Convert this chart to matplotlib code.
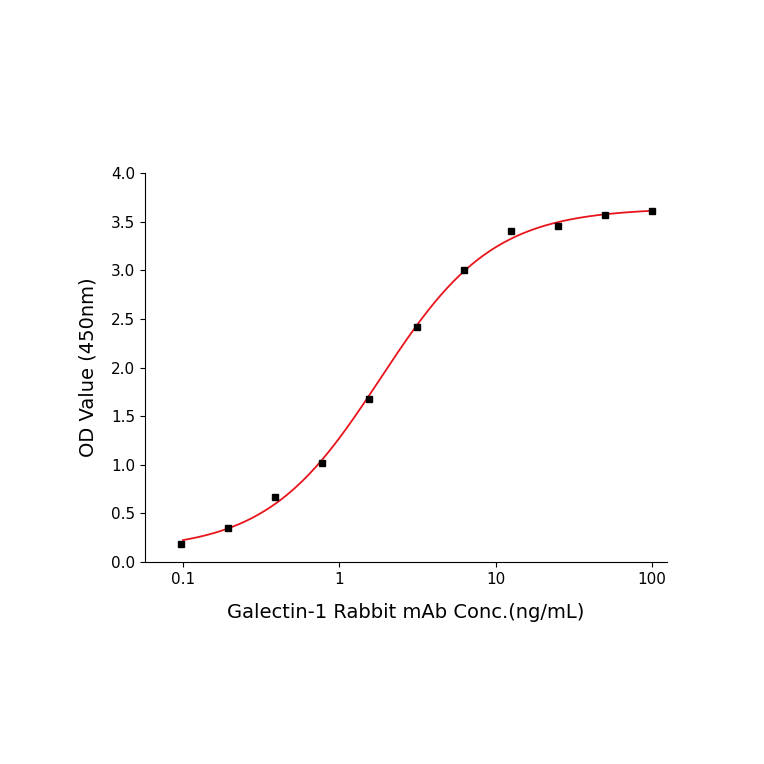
import numpy as np
import matplotlib
matplotlib.use("Agg")
import matplotlib.pyplot as plt
from matplotlib.ticker import NullLocator

conc = [0.0977, 0.195, 0.39, 0.78, 1.56, 3.125, 6.25, 12.5, 25, 50, 100]
od = [0.19, 0.35, 0.67, 1.02, 1.68, 2.42, 3.00, 3.40, 3.46, 3.57, 3.61]

# 4PL fit by simple grid search least squares on the data
x = np.array(conc); y = np.array(od)
best = None
for bot in np.linspace(0.0, 0.2, 11):
    for top in np.linspace(3.5, 3.8, 16):
        for lec in np.linspace(0.0, 0.6, 31):
            for h in np.linspace(0.9, 1.8, 19):
                f = bot + (top - bot) / (1 + (10**lec / x) ** h)
                e = np.sum((f - y) ** 2)
                if best is None or e < best[0]:
                    best = (e, bot, top, lec, h)
_, bot, top, lec, h = best
xs = np.logspace(-1, 2, 300)
ys = bot + (top - bot) / (1 + (10**lec / xs) ** h)

fig = plt.figure(figsize=(7.64, 7.64), dpi=100)
ax = fig.add_axes([145/764, 1-562/764, (667-145)/764, (562-173)/764])
ax.plot(xs, ys, color="#e8141c", lw=1.3)
ax.plot(conc, od, "s", color="black", ms=5)
ax.set_xscale("log")
ax.set_xlim(0.0572, 124.7)
ax.set_ylim(0, 4)
ax.set_yticks(np.arange(0, 4.01, 0.5))
ax.set_yticklabels([f"{v:.1f}" for v in np.arange(0, 4.01, 0.5)])
ax.set_xticks([0.1, 1, 10, 100])
ax.set_xticklabels(["0.1", "1", "10", "100"])
ax.xaxis.set_minor_locator(NullLocator())
for s in ["top", "right"]:
    ax.spines[s].set_visible(False)
ax.tick_params(direction="out", labelsize=11)
ax.set_xlabel("Galectin-1 Rabbit mAb Conc.(ng/mL)", fontsize=14, labelpad=12)
ax.set_ylabel("OD Value (450nm)", fontsize=14, labelpad=10)
fig.savefig("out.png", dpi=100)
